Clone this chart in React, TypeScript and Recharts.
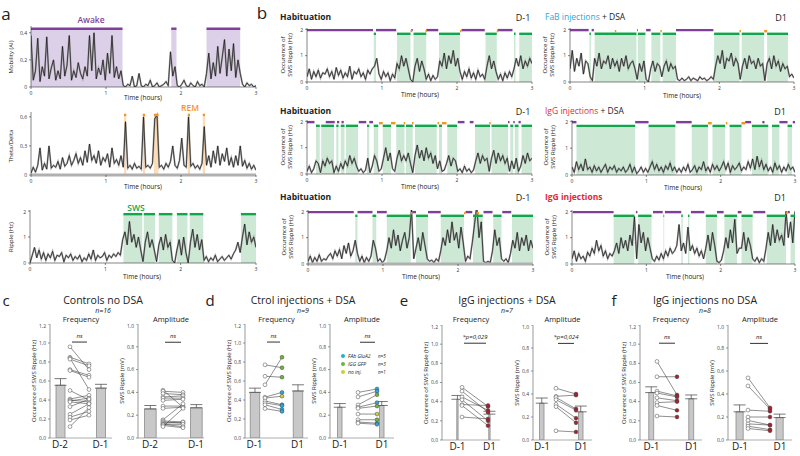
import React from 'react';
import { ComposedChart, Line, XAxis, YAxis, ReferenceArea, ReferenceLine, Bar, ErrorBar } from 'recharts';

const FONT = '"Open Sans", "Noto Sans", sans-serif';
const PURPLE = '#7f3f98', PURPLE_SH = '#dcd0e8', GREEN = '#13a54b', GREEN_SH = '#cde9d6';
const ORANGE = '#f7941d', ORANGE_SH = '#fddcb8';
const BLUE = '#27a9e1', LGREEN = '#6db33f', YEL = '#c9cf36', RED = '#a8202f';

// time grid: one value every 0.03 h (0..3 h)
const STEP = 0.03;

// ---------- panel a ----------
const mobility = [0.38,0.05,0.12,0.36,0.04,0.15,0.08,0.37,0.06,0.14,0.2,0.05,0.12,0.06,0.3,0.08,0.16,0.38,0.05,0.12,0.07,0.18,0.1,0.06,0.15,0.08,0.38,0.12,0.4,0.06,0.14,0.09,0.2,0.05,0.25,0.1,0.38,0.07,0.15,0.06,0.12,
  0.01,0.0,0.02,0.01,0.08,0.0,0.01,0.1,0.01,0.0,0.02,0.01,0.05,0.0,0.01,0.03,0.0,0.01,0.02,0.04,0.01,
  0.26,0.08,0.15,
  0.01,0.0,0.02,0.05,0.01,0.0,0.03,0.01,0.0,0.04,0.01,0.02,0.0,
  0.1,0.25,0.06,0.18,0.08,0.3,0.1,0.22,0.35,0.08,0.28,0.12,0.32,0.07,0.2,0.1,
  0.02,0.0,0.03,0.01,0.02,0.0,0.01];
const thetaDelta = [0.02,0.08,0.03,0.1,0.28,0.05,0.12,0.06,0.3,0.07,0.1,
  0.08,0.14,0.06,0.18,0.09,0.12,0.2,0.1,0.15,0.22,
  0.12,0.18,0.1,0.25,0.13,0.32,0.15,0.2,0.12,0.25,
  0.1,0.18,0.14,0.22,0.08,0.28,0.12,0.16,0.1,0.2,
  0.08,0.55,0.07,0.1,0.06,0.12,0.07,0.09,0.06,0.6,0.08,0.1,0.07,0.12,0.58,0.62,0.08,0.1,0.06,0.12,0.08,0.14,0.3,0.1,0.07,0.15,0.38,0.1,0.08,0.6,
  0.09,0.12,0.07,0.1,0.06,0.12,0.5,0.1,0.2,0.08,0.25,0.12,0.3,0.1,0.22,0.14,0.28,0.1,0.18,0.08,0.2,0.1,0.3,0.09,0.15,0.07,0.12,0.06,0.1,0.05];
const rippleA = [0.0,0.3,0.6,0.2,0.5,0.15,0.4,0.1,0.35,0.2,0.45,0.1,0.3,0.25,0.4,0.05,0.3,0.2,0.35,0.1,0.25,0.15,0.3,0.05,0.2,0.1,0.35,0.15,0.5,0.1,0.3,0.2,0.25,0.4,0.1,0.3,0.2,0.35,0.25,0.4,0.3,
  0.9,1.2,0.7,1.6,0.8,1.1,0.6,1.0,0.5, 0.05, 0.8,1.2,0.6,0.9,0.5, 0.05, 0.7,1.0,0.5,1.1,0.6,0.8, 0.1,0.0,
  0.5,0.9,0.3,1.0,0.4, 0.0, 0.8,1.3,0.6,1.1,0.5,0.9,
  0.1,0.25,0.05,0.2,0.1,0.3,0.05,0.15,0.25,0.1,0.2,0.3,0.15,0.35,0.5,0.8,
  0.4,1.0,1.5,0.7,1.2,0.8,1.0,0.6];
const awakeA: [number, number][] = [[0, 1.22], [1.87, 1.94], [2.34, 2.79]];
const remA: [number, number][] = [[1.24, 1.27], [1.49, 1.52], [1.64, 1.7], [2.09, 2.12], [2.29, 2.32]];
const swsA: [number, number][] = [[1.24, 1.49], [1.51, 1.66], [1.71, 1.89], [1.95, 2.09], [2.12, 2.3], [2.8, 3]];

// ---------- panel b ----------
const habit1 = [0.2,0.5,0.1,0.4,0.2,0.45,0.15,0.35,0.3,0.5,0.2,0.4,0.1,0.55,0.25,0.45,0.15,0.35,0.2,0.6,0.1,0.4,0.3,0.5,0.2,0.35,0.1,0.45,0.3,0.5,
  0.6,0.9, 0.3,0.1,0.4,0.2,0.35,0.05,0.3,0.15, 0.7,0.5,1.0,0.6,0.9,0.5, 0.1,0.0, 0.6,0.9,0.4,0.8,0.5,
  0.1,0.3,0.05,0.25,0.1, 0.2,0.8,0.6,1.1,0.5,1.0,0.7,1.2,0.6,0.9,0.4,
  0.1,0.4,0.2,0.5,0.15,0.35,0.1,0.45,0.2,0.3,0.1, 0.6,1.0,0.5,0.8,0.4, 0.1,0.3,0.05,0.35,0.15,0.4,0.2,
  0.5,0.9,0.6,1.0,0.5,0.8,0.6,0.9,0.7];
const fab1 = [0.5,1.2,0.4,0.9,0.6,1.1,0.3,0.8,0.7, 0.2,0.05,
  0.9,0.6,1.1,0.5,0.8,0.7,1.0,0.5,0.9,0.6,0.8,0.4,0.9,0.6,1.0,0.5,0.7,0.8,0.5, 0.1, 0.7,0.4,0.8, 0.1,0.0,
  0.5,0.8,0.4,0.7,0.6,0.2,0.6,0.8,0.4,0.7,0.5,0.6,
  0.1,0.05,0.15,0.05,0.1,0.2,0.05,0.15,0.1,0.05,0.2,0.1,0.15,0.05,0.1,0.2,0.1,
  0.6,1.0,0.7,1.2,0.5,0.9,0.8,1.1,0.6,0.9,0.7, 0.1, 0.6,0.9,0.5,1.0,0.7,0.8,0.5,0.9,0.6,0.7, 0.05,
  0.7,0.9,0.5,1.0,0.6,0.8,0.4,0.7,0.5,0.6, 0.2,0.3,0.15];
const habit2 = [0.1,0.3,0.05,0.2, 0.5,0.4, 0.05, 0.5,0.3,0.6,0.4,0.5, 0.05,0.3, 0.1,0.4,0.2, 0.5,0.3,0.7,0.4,0.6,0.3,
  0.1,0.2,0.05,0.15, 0.6, 0.05, 0.3,0.7,0.5, 0.1,0.2, 0.6,1.0,0.5,0.8, 0.2,0.1, 0.6,0.9,0.5,0.7, 0.5,0.8,0.4, 0.05,
  0.7,1.1,0.6,0.9,0.5,1.0,0.6,0.8,0.4,0.7, 0.2,0.5,0.1,0.15, 0.4,0.7,0.3,0.6,0.5,
  0.1,0.2,0.05,0.3,0.1,0.2,0.05,0.15, 0.5,0.8,0.4,0.7,0.5,0.6, 0.1, 0.6,0.9,0.4,0.8,0.5,0.7,0.4,0.6,
  0.1,0.5,0.2,0.6,0.1, 0.3,0.7,0.4,0.8,0.5,0.6];
const igg2 = [0.3,0.1,0.5,0.2,0.4,0.15,0.6,0.2,0.3,0.1,0.35,0.15,0.3,0.1,0.25,0.4,0.1,0.3,0.2,0.35,0.1,0.25,0.15,0.3,0.1,0.2,0.4,0.1,0.3,0.05,
  0.15,0.3,0.1, 0.25,0.1,0.3, 0.5,0.2,0.4,0.15,0.3,0.1,0.35,0.2,0.45,0.15,0.3,0.1,
  0.25,0.1,0.3,0.15,0.4,0.1,0.2,
  0.35,0.1,0.3,0.2,0.5,0.15,0.3,0.1,0.4,0.2,0.35,0.15,0.3,0.5,0.2,0.45,0.1,0.35,0.2,0.3,
  0.45,0.15,0.3,0.2,0.5,0.25,0.6,0.2,0.7,0.3,0.55,0.2,0.4,0.15,
  0.3,0.1,0.45,0.2,0.35,0.1,0.3,0.15,0.4,0.2,0.3,0.1];
const habit3 = [0.1,0.3,0.05,0.25,0.1,0.35,0.1,0.2,0.15,0.3,0.4,0.2,0.5,0.3,0.55,0.2,0.7,0.4,0.8,0.3,0.5,
  0.9,0.4, 0.1,0.3,0.05,0.25,0.1,0.3, 0.9,0.6, 0.1,0.2,0.05,0.15,
  0.5,1.0,0.6,1.3,0.7,1.1,0.5,0.9,1.2,0.6,1.0, 2.1, 0.2, 0.6,1.0,0.5,1.2,0.7, 0.2,0.1,0.15,0.05,0.2,0.1,
  0.5,1.0,0.7,1.3,0.8,1.6,0.9,1.2,0.6,1.4,0.8, 0.1,0.3,0.2, 0.8,1.5,2.2,1.0,1.6, 0.1,0.05,0.1,0.05,
  0.5,1.3,0.7,1.0, 0.2,0.1,0.2,0.05, 0.4,0.9,0.6,1.2,0.5,1.0,0.7,1.1,0.5,0.9,0.6];
const igg3 = [0.2,0.5,0.1,0.4,0.2,0.3,0.1,0.45,0.3,0.6,0.4,0.9,0.5,0.7,0.3,0.5,0.2,0.4,0.3,
  0.5,0.8,0.4,1.0,0.6,0.9,0.5,1.1,0.7,1.8, 0.2, 1.5,0.8,1.2,0.5,1.0,0.6,
  0.2,0.1,0.3,0.15,0.4,0.2,0.5,0.3,0.6,0.4,0.5,0.7,1.5,
  0.5,0.8,0.4,1.4,0.5,0.7,0.4,0.6,0.3,0.5,0.2, 0.6,1.1,0.5,1.2,0.7, 0.1,0.05,0.15,
  0.5,1.0,0.6,1.3,0.8,1.7, 0.4,0.6, 0.6,1.2,0.5,1.0,0.7, 0.2,0.1,0.25,0.05,0.2,0.1,
  0.6,1.2,0.7,1.5,0.8,1.3,0.9,1.1,0.7, 2.0,1.0,1.6,0.8,2.0];

type Iv = [number, number];
const bL1 = { purple: [[0,0.88],[0.92,1.19],[1.39,1.41],[1.59,1.75],[2.06,2.37],[2.54,2.74]] as Iv[],
  green: [[0.89,0.92],[1.2,1.38],[1.42,1.59],[1.76,2.04],[2.38,2.53],[2.76,2.78],[2.83,3]] as Iv[],
  orange: [[1.38,1.4],[1.58,1.6],[2.04,2.06],[2.53,2.55]] as Iv[] };
const bR1 = { purple: [[0,0.25],[0.29,0.32],[0.9,0.91],[1.02,1.08],[1.42,1.92]] as Iv[],
  green: [[0.26,0.28],[0.33,0.89],[0.91,1.01],[1.09,1.21],[1.24,1.42],[1.93,2.27],[2.3,2.6],[2.64,2.92]] as Iv[],
  orange: [[0.6,0.62],[1.21,1.23],[2.27,2.29],[2.6,2.64]] as Iv[] };
const bL2 = { purple: [[0,0.1],[0.25,0.37],[0.4,0.43],[0.46,0.49],[0.69,0.79],[0.83,0.88],[2.01,2.1],[2.17,2.22],[2.68,2.7],[2.75,2.77],[2.82,2.85]] as Iv[],
  green: [[0.12,0.17],[0.19,0.36],[0.39,0.42],[0.45,0.5],[0.52,0.68],[0.8,0.83],[0.89,0.95],[1.01,1.12],[1.19,1.3],[1.32,1.41],[1.44,1.73],[1.76,1.8],[1.87,2.0],[2.24,2.44],[2.46,2.68],[2.71,2.75],[2.77,2.82],[2.86,3]] as Iv[],
  orange: [[0.96,1.01],[1.12,1.18],[1.29,1.31],[1.4,1.42],[1.74,1.76],[1.8,1.86],[2.43,2.45]] as Iv[] };
const bR2 = { purple: [[0,0.06],[0.85,1.03],[1.4,1.61],[2.33,2.41],[2.56,2.59],[2.79,2.9],[2.97,3]] as Iv[],
  green: [[0.06,0.85],[1.03,1.39],[1.61,1.83],[1.89,2.06],[2.12,2.28],[2.42,2.64],[2.69,2.79],[2.9,2.96]] as Iv[],
  orange: [[1.83,1.88],[2.07,2.09],[2.28,2.33]] as Iv[] };
const bL3 = { purple: [[0,0.61],[0.66,0.86],[0.92,1.05],[1.39,1.44],[1.6,1.77],[2.1,2.19],[2.34,2.46],[2.59,2.71]] as Iv[],
  green: [[0.63,0.66],[0.86,0.91],[1.05,1.37],[1.44,1.6],[1.77,2.08],[2.2,2.33],[2.47,2.58],[2.72,3]] as Iv[],
  orange: [[1.37,1.39],[2.08,2.1],[2.25,2.28]] as Iv[] };
const bR3 = { purple: [[0.01,0.56],[0.86,0.88],[1.09,1.22],[1.25,1.47],[1.6,1.78],[1.95,2.04],[2.23,2.28],[2.44,2.6],[2.9,2.93]] as Iv[],
  green: [[0.56,0.84],[0.89,1.07],[1.23,1.24],[1.47,1.49],[1.56,1.58],[1.8,1.95],[2.05,2.22],[2.28,2.43],[2.62,2.88],[2.94,3]] as Iv[],
  orange: [[2.88,2.9]] as Iv[] };

// ---------- panels c-f ----------
const cFreqPre = [0.96,0.85,0.84,0.83,0.72,0.71,0.50,0.41,0.40,0.39,0.38,0.33,0.25,0.22,0.19,0.12];
const cFreqPost = [0.72,0.78,0.51,0.76,0.66,0.64,0.40,0.45,0.38,0.42,0.36,0.41,0.36,0.28,0.24,0.32];
const cAmpPre = [0.42,0.41,0.39,0.36,0.35,0.33,0.28,0.26,0.16,0.15,0.14,0.13,0.12,0.12,0.11,0.10];
const cAmpPost = [0.27,0.40,0.38,0.37,0.35,0.34,0.28,0.27,0.30,0.14,0.13,0.14,0.12,0.10,0.09,0.26];
const dFreqPre = [0.77,0.65,0.56,0.43,0.42,0.39,0.37,0.35,0.31];
const dFreqPost = [0.74,0.64,0.85,0.48,0.44,0.35,0.34,0.30,0.28];
const dFreqCol = [LGREEN, LGREEN, LGREEN, BLUE, YEL, BLUE, BLUE, BLUE, BLUE];
const dAmpPre = [0.40,0.36,0.29,0.27,0.26,0.21,0.16,0.14,0.13];
const dAmpPost = [0.43,0.41,0.38,0.31,0.28,0.21,0.16,0.13,0.12];
const dAmpCol = [BLUE, BLUE, LGREEN, BLUE, LGREEN, YEL, LGREEN, BLUE, BLUE];
const eFreqPre = [0.55,0.51,0.45,0.42,0.37,0.36,0.24];
const eFreqPost = [0.35,0.29,0.31,0.20,0.36,0.15,0.22];
const eAmpPre = [0.45,0.38,0.37,0.35,0.31,0.29,0.08];
const eAmpPost = [0.40,0.39,0.27,0.26,0.19,0.15,0.07];
const fFreqPre = [0.82,0.66,0.51,0.49,0.44,0.39,0.36,0.25];
const fFreqPost = [0.47,0.66,0.46,0.45,0.41,0.40,0.31,0.24];
const fAmpPre = [0.54,0.47,0.26,0.20,0.17,0.14,0.12,0.10];
const fAmpPost = [0.28,0.27,0.25,0.20,0.13,0.13,0.09,0.08];
const means = {
  cF: [0.555, 0.525], cFe: [0.07, 0.04], cA: [0.255, 0.265], cAe: [0.03, 0.028],
  dF: [0.48, 0.495], dFe: [0.045, 0.065], dA: [0.27, 0.285], dAe: [0.032, 0.035],
  eF: [0.425, 0.27], eFe: [0.04, 0.03], eA: [0.32, 0.245], eAe: [0.045, 0.05],
  fF: [0.495, 0.43], fFe: [0.06, 0.04], fA: [0.245, 0.195], fAe: [0.06, 0.03],
};

const comma = (v: number, d = 1) => (v === 0 && d === 0 ? '0' : v.toFixed(d).replace('.', ','));

function T({ x, y, s = 7, c = '#222', w = 400, it = false, rot = false, al = 'center', children }: any) {
  return (
    <div style={{ position: 'absolute', left: x, top: y, fontSize: s, color: c, fontWeight: w, fontStyle: it ? 'italic' : 'normal',
      whiteSpace: 'nowrap', lineHeight: 1, transform: `translate(${al === 'center' ? '-50%' : '0'},-50%)${rot ? ' rotate(-90deg)' : ''}` }}>
      {children}
    </div>
  );
}

function TimeChart({ x, top, w, h, ymax, yticks, yfmt, vals, purple = [], green = [], orange = [], shadePurple = false,
  shadeOrange = false, shadeGreen = true, pl = 1.97, gl = 1.83, ol = 1.93, thick = false }: any) {
  const YW = 16, XH = 10;
  const data = vals.map((v: number, i: number) => ({ t: Math.round(i * STEP * 100) / 100, v }));
  return (
    <div style={{ position: 'absolute', left: x - YW, top }}>
      <ComposedChart width={YW + w + 3} height={h + XH} data={data} margin={{ top: 0, right: 3, left: 0, bottom: 0 }}>
        <XAxis dataKey="t" type="number" domain={[0, 3]} ticks={[0, 1, 2, 3]} height={XH} allowDataOverflow
          tick={{ fontSize: 5, fill: '#333' }} tickSize={2}
          axisLine={{ stroke: thick ? '#b0b0b0' : '#333', strokeWidth: thick ? 3 : 0.6 }} tickLine={{ stroke: '#333', strokeWidth: 0.6 }} />
        <YAxis type="number" domain={[0, ymax]} ticks={yticks} width={YW} allowDataOverflow tickFormatter={yfmt}
          tick={{ fontSize: 5, fill: '#333' }} tickSize={2} axisLine={{ stroke: '#333', strokeWidth: 0.6 }} tickLine={{ stroke: '#333', strokeWidth: 0.6 }} />
        {shadePurple && purple.map((iv: Iv, i: number) => (
          <ReferenceArea key={'ps' + i} x1={iv[0]} x2={iv[1]} y1={0} y2={pl} fill={PURPLE_SH} fillOpacity={1} stroke="none" />))}
        {shadeGreen && green.map((iv: Iv, i: number) => (
          <ReferenceArea key={'gs' + i} x1={iv[0]} x2={iv[1]} y1={0} y2={gl} fill={GREEN_SH} fillOpacity={1} stroke="none" />))}
        {shadeOrange && orange.map((iv: Iv, i: number) => (
          <ReferenceArea key={'os' + i} x1={iv[0]} x2={iv[1]} y1={0} y2={ol} fill={ORANGE_SH} fillOpacity={1} stroke="none" />))}
        <Line dataKey="v" dot={false} stroke="#8c8c8c" strokeWidth={1.8} strokeOpacity={0.7} isAnimationActive={false} activeDot={false} />
        <Line dataKey="v" dot={false} stroke="#111" strokeWidth={0.7} isAnimationActive={false} activeDot={false} />
        {purple.map((iv: Iv, i: number) => (
          <ReferenceLine key={'p' + i} segment={[{ x: iv[0], y: pl }, { x: iv[1], y: pl }]} stroke={PURPLE} strokeWidth={2.4} ifOverflow="visible" />))}
        {green.map((iv: Iv, i: number) => (
          <ReferenceLine key={'g' + i} segment={[{ x: iv[0], y: gl }, { x: iv[1], y: gl }]} stroke={GREEN} strokeWidth={2.4} ifOverflow="visible" />))}
        {orange.map((iv: Iv, i: number) => (
          <ReferenceLine key={'o' + i} segment={[{ x: iv[0], y: ol }, { x: iv[1], y: ol }]} stroke={ORANGE} strokeWidth={2.4} ifOverflow="visible" />))}
      </ComposedChart>
    </div>
  );
}

function PairChart({ ax, right, top, bottom, ymax, b, d, mean, err, pre, post, postFill, labels, title, ylab, sig, sigY, barW = 14 }: any) {
  const YW = 16, XH = 16;
  const ph = bottom - top;
  const bars = [{ x: b[0], m: mean[0], e: [0, err[0]] }, { x: b[1], m: mean[1], e: [0, err[1]] }];
  const ticks: number[] = [];
  for (let v = 0; v <= ymax + 1e-9; v += 0.2) ticks.push(Math.round(v * 10) / 10);
  const sigPx = bottom - (sigY / ymax) * ph;
  return (
    <>
      <div style={{ position: 'absolute', left: ax - YW, top }}>
        <ComposedChart width={YW + (right - ax) + 8} height={ph + XH} data={bars} margin={{ top: 0, right: 8, left: 0, bottom: 0 }}>
          <XAxis dataKey="x" type="number" domain={[ax, right]} ticks={b} height={XH} allowDataOverflow
            tickFormatter={(v: number) => (v === b[0] ? labels[0] : labels[1])} tickLine={false} tickSize={2} tickMargin={1}
            tick={{ fontSize: 10, fill: '#222' }} axisLine={{ stroke: '#999', strokeWidth: 0.8 }} />
          <YAxis type="number" domain={[0, ymax]} ticks={ticks} width={YW} allowDataOverflow tickFormatter={(v: number) => comma(v)}
            tick={{ fontSize: 5, fill: '#444' }} tickSize={2} axisLine={{ stroke: '#555', strokeWidth: 0.6 }} tickLine={{ stroke: '#555', strokeWidth: 0.6 }} />
          <Bar dataKey="m" barSize={barW} fill="#c8c8c8" stroke="#8a8a8a" strokeWidth={0.8} isAnimationActive={false}>
            <ErrorBar dataKey="e" width={6} stroke="#555" strokeWidth={0.8} direction="y" />
          </Bar>
          <ReferenceLine segment={[{ x: d[0] + 2, y: sigY }, { x: d[1] - 2, y: sigY }]} stroke="#333" strokeWidth={1} ifOverflow="visible" />
          {pre.map((v: number, i: number) => (
            <Line key={'l' + i} data={[{ x: d[0], y: v }, { x: d[1], y: post[i] }]} dataKey="y" stroke="#444" strokeWidth={0.6}
              isAnimationActive={false} activeDot={false}
              dot={(p: any) => {
                const fill = p.index === 0 ? '#fff' : Array.isArray(postFill) ? postFill[i] : postFill;
                return <circle key={'d' + i + '-' + p.index} cx={p.cx} cy={p.cy} r={1.9} fill={fill} stroke="#444" strokeWidth={0.5} />;
              }} />
          ))}
        </ComposedChart>
      </div>
      <T x={(ax + right) / 2} y={320} s={7.5}>{title}</T>
      <T x={(d[0] + d[1]) / 2} y={sigPx - 6} s={6} it>{sig}</T>
      <T x={ax - 16} y={(top + bottom) / 2} s={6} rot>{ylab}</T>
    </>
  );
}

const FREQ_LAB = 'Occurence of SWS Ripple (Hz)';
const AMP_LAB = 'SWS Ripple (mV)';

export default function App() {
  const bTicks = [0, 1, 2];
  const f0 = (v: number) => String(v);
  const bYLab = (x: number, y: number) => (
    <>
      <T x={x} y={y} s={6} rot>Occurence of</T>
      <T x={x + 7} y={y} s={6} rot>SWS Ripple (Hz)</T>
    </>
  );
  return (
    <div style={{ position: 'absolute', left: 0, top: 0, width: 800, height: 456, background: '#fff', fontFamily: FONT, overflow: 'hidden' }}>
      {/* panel a */}
      <T x={6} y={13} s={17}>a</T>
      <T x={91} y={20} s={8.5} c={PURPLE} w={600}>Awake</T>
      <TimeChart x={31} top={26} w={225} h={61} ymax={0.45} yticks={[0, 0.2, 0.4]} yfmt={(v: number) => (v === 0 ? '0' : comma(v))}
        vals={mobility} purple={awakeA} shadePurple pl={0.43} />
      <T x={11} y={57} s={6} rot>Mobility (AI)</T>
      <T x={143} y={98} s={6.5}>Time (hours)</T>

      <T x={190} y={108} s={8.5} c={ORANGE} w={600}>REM</T>
      <TimeChart x={31} top={112} w={225} h={63} ymax={0.65} yticks={[0, 0.3, 0.6]} yfmt={(v: number) => (v === 0 ? '0' : comma(v))}
        vals={thetaDelta} orange={remA} shadeOrange ol={0.62} thick />
      <T x={11} y={146} s={6} rot>Theta/Delta</T>
      <T x={143} y={187} s={6.5}>Time (hours)</T>

      <T x={136} y={208} s={8.5} c={GREEN} w={600}>SWS</T>
      <TimeChart x={30} top={210} w={226} h={53} ymax={2.04} yticks={bTicks} yfmt={f0} vals={rippleA} green={swsA} gl={1.88} />
      <T x={11} y={237} s={6} rot>Ripple (Hz)</T>
      <T x={142} y={277} s={6.5}>Time (hours)</T>

      {/* panel b */}
      <T x={262} y={12} s={17}>b</T>
      <T x={280} y={17} s={8.5} w={700} al="left">Habituation</T>
      <T x={523} y={17} s={9}>D-1</T>
      <T x={545} y={17} s={8.5} al="left"><span style={{ color: BLUE }}>FaB injections</span> + DSA</T>
      <T x={781} y={17} s={9}>D1</T>
      <TimeChart x={307} top={28} w={225} h={54} ymax={2.05} yticks={bTicks} yfmt={f0} vals={habit1} {...bL1} />
      <TimeChart x={570} top={28} w={224} h={54} ymax={2.05} yticks={bTicks} yfmt={f0} vals={fab1} {...bR1} />
      {bYLab(283, 55)}
      {bYLab(545, 55)}
      <T x={420} y={95} s={6.5}>Time (hours)</T>
      <T x={682} y={96} s={6.5}>Time (hours)</T>

      <T x={280} y={111} s={8.5} w={700} al="left">Habituation</T>
      <T x={523} y={111} s={9}>D-1</T>
      <T x={545} y={111} s={8.5} al="left"><span style={{ color: '#e0283c' }}>IgG injections</span> + DSA</T>
      <T x={780} y={111} s={9}>D1</T>
      <TimeChart x={307} top={120} w={225} h={54} ymax={2.05} yticks={bTicks} yfmt={f0} vals={habit2} {...bL2} />
      <TimeChart x={572} top={120} w={223} h={55} ymax={2.05} yticks={bTicks} yfmt={f0} vals={igg2} {...bR2} />
      {bYLab(283, 147)}
      {bYLab(546, 147)}
      <T x={420} y={187} s={6.5}>Time (hours)</T>
      <T x={683} y={188} s={6.5}>Time (hours)</T>

      <T x={280} y={197} s={8.5} w={700} al="left">Habituation</T>
      <T x={523} y={197} s={9}>D-1</T>
      <T x={545} y={197} s={8.5} w={700} c="#e0283c" al="left">IgG injections</T>
      <T x={780} y={197} s={9}>D1</T>
      <TimeChart x={308} top={210} w={225} h={54} ymax={2.05} yticks={bTicks} yfmt={f0} vals={habit3} {...bL3} thick />
      <TimeChart x={572} top={210} w={223} h={54} ymax={2.05} yticks={bTicks} yfmt={f0} vals={igg3} {...bR3} />
      {bYLab(284, 237)}
      {bYLab(547, 237)}
      <T x={421} y={277} s={6.5}>Time (hours)</T>
      <T x={685} y={277} s={6.5}>Time (hours)</T>

      {/* panel c */}
      <T x={6} y={300} s={15}>c</T>
      <T x={103} y={300} s={10.5} w={500}>Controls no DSA</T>
      <T x={103} y={310} s={7} it>n=16</T>
      <PairChart ax={50} right={112} top={324} bottom={438} ymax={1.2} b={[60, 100.5]} d={[70, 89]} mean={means.cF} err={means.cFe}
        pre={cFreqPre} post={cFreqPost} postFill="#fff" labels={['D-2', 'D-1']} title="Frequency" ylab={FREQ_LAB} sig="ns" sigY={1.01} />
      <PairChart ax={138} right={204} top={324} bottom={438} ymax={1.0} b={[150, 196]} d={[163, 183]} mean={means.cA} err={means.cAe}
        pre={cAmpPre} post={cAmpPost} postFill="#fff" labels={['D-2', 'D-1']} title="Amplitude" ylab={AMP_LAB} sig="ns" sigY={0.84} />

      {/* panel d */}
      <T x={210} y={300} s={15}>d</T>
      <T x={303} y={300} s={10.5} w={500}>Ctrol injections + DSA</T>
      <T x={303} y={310} s={7} it>n=9</T>
      <PairChart ax={245} right={308} top={324} bottom={438} ymax={1.2} b={[254.5, 297.5]} d={[265, 282]} mean={means.dF} err={means.dFe}
        pre={dFreqPre} post={dFreqPost} postFill={dFreqCol} labels={['D-1', 'D1']} title="Frequency" ylab={FREQ_LAB} sig="ns" sigY={1.01} barW={15} />
      <PairChart ax={330} right={394} top={324} bottom={438} ymax={1.0} b={[340, 382]} d={[358, 377]} mean={means.dA} err={means.dAe}
        pre={dAmpPre} post={dAmpPost} postFill={dAmpCol} labels={['D-1', 'D1']} title="Amplitude" ylab={AMP_LAB} sig="ns" sigY={0.84} barW={15} />
      {[['FAb GluA2', 'n=5', BLUE], ['IGG GFP', 'n=3', LGREEN], ['no inj.', 'n=1', YEL]].map((r, i) => (
        <React.Fragment key={'lg' + i}>
          <div style={{ position: 'absolute', left: 341, top: 354 + i * 8, width: 4, height: 4, borderRadius: 3, background: r[2] as string }} />
          <T x={348} y={356 + i * 8} s={5} it al="left">{r[0]}</T>
          <T x={378} y={356 + i * 8} s={4.5} it al="left">{r[1]}</T>
        </React.Fragment>
      ))}

      {/* panel e */}
      <T x={404} y={300} s={15}>e</T>
      <T x={507} y={300} s={10.5} w={500}>IgG injections + DSA</T>
      <T x={507} y={310} s={7} it>n=7</T>
      <PairChart ax={442} right={500} top={325} bottom={440} ymax={1.2} b={[457.5, 489.5]} d={[462, 488]} mean={means.eF} err={means.eFe}
        pre={eFreqPre} post={eFreqPost} postFill={RED} labels={['D-1', 'D1']} title="Frequency" ylab={FREQ_LAB} sig="*p=0,029" sigY={1.01} barW={15} />
      <PairChart ax={533} right={592} top={325} bottom={440} ymax={1.0} b={[542, 581]} d={[556, 576]} mean={means.eA} err={means.eAe}
        pre={eAmpPre} post={eAmpPost} postFill={RED} labels={['D-1', 'D1']} title="Amplitude" ylab={AMP_LAB} sig="*p=0,024" sigY={0.84} barW={15} />

      {/* panel f */}
      <T x={614} y={300} s={15}>f</T>
      <T x={705} y={300} s={10.5} w={500}>IgG injections no DSA</T>
      <T x={705} y={310} s={7} it>n=8</T>
      <PairChart ax={640} right={702} top={325} bottom={440} ymax={1.2} b={[651.5, 691.5]} d={[657, 677]} mean={means.fF} err={means.fFe}
        pre={fFreqPre} post={fFreqPost} postFill={RED} labels={['D-1', 'D1']} title="Frequency" ylab={FREQ_LAB} sig="ns" sigY={1.01} barW={14} />
      <PairChart ax={728} right={792} top={325} bottom={440} ymax={1.0} b={[740, 780]} d={[748, 770]} mean={means.fA} err={means.fAe}
        pre={fAmpPre} post={fAmpPost} postFill={RED} labels={['D-1', 'D1']} title="Amplitude" ylab={AMP_LAB} sig="ns" sigY={0.84} barW={14} />
    </div>
  );
}
